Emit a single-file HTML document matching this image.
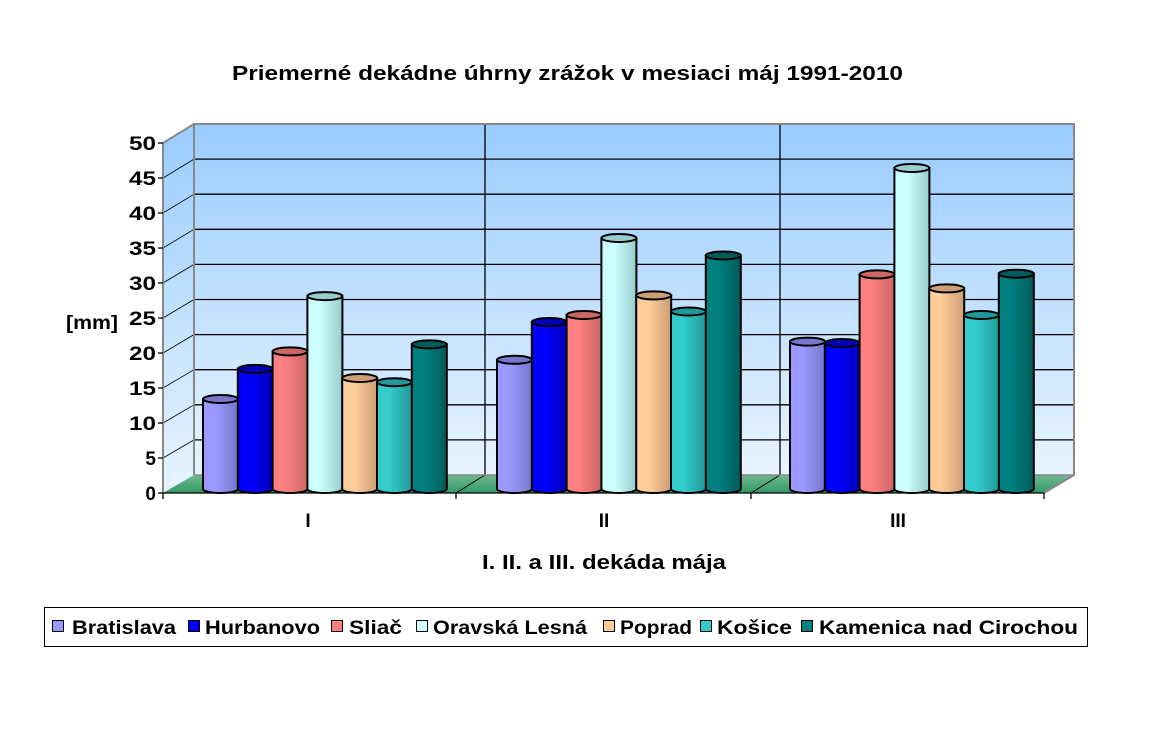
<!DOCTYPE html>
<html><head><meta charset="utf-8"><style>
body{margin:0;background:#fff;width:1161px;height:756px;overflow:hidden;font-family:"Liberation Sans",Arial,sans-serif}
</style></head><body>
<svg width="1161" height="756" xmlns="http://www.w3.org/2000/svg" style="position:absolute;left:0;top:0">
<defs>
<linearGradient id="wall" x1="0" y1="0" x2="0" y2="1"><stop offset="0" stop-color="#99ccff"/><stop offset="1" stop-color="#e8f4ff"/></linearGradient>
<linearGradient id="fl" x1="0" y1="0" x2="0" y2="1"><stop offset="0" stop-color="#6fb890"/><stop offset="1" stop-color="#339966"/></linearGradient>
</defs>
<g font-family="Liberation Sans, Arial, sans-serif" font-weight="bold" fill="#000">
<text x="232" y="80" font-size="20" textLength="671" lengthAdjust="spacingAndGlyphs">Priemerné dekádne úhrny zrážok v mesiaci máj 1991-2010</text>
</g>
<polygon points="163,143 194,124 194,475 163,493" fill="url(#wall)"/>
<rect x="194" y="124" width="880" height="351" fill="url(#wall)"/>
<polygon points="194,475 1074,475 1044,493 163,493" fill="url(#fl)"/>
<g stroke="#000" stroke-width="1.3" id="grid"></g>
<line x1="485" y1="124" x2="485" y2="475" stroke="#000" stroke-width="1.3"/>
<line x1="780" y1="124" x2="780" y2="475" stroke="#000" stroke-width="1.3"/>
<line x1="485" y1="475" x2="456" y2="493" stroke="#000" stroke-width="1"/>
<line x1="780" y1="475" x2="751" y2="493" stroke="#000" stroke-width="1"/>
<polyline points="163,143 194,124 1074,124 1074,475 1044,493" fill="none" stroke="#888" stroke-width="2"/>
<line x1="194" y1="124" x2="194" y2="475" stroke="#888" stroke-width="2"/>
<line x1="194" y1="475" x2="1074" y2="475" stroke="#888" stroke-width="1.5"/>
<line x1="163" y1="143" x2="163" y2="493" stroke="#888" stroke-width="2"/>
<line x1="163" y1="493" x2="1044" y2="493" stroke="#000" stroke-width="1.3"/>
<g id="bars"></g>
<g id="ticks" stroke="#000" stroke-width="1.3"></g>
<g font-family="Liberation Sans, Arial, sans-serif" font-weight="bold" font-size="19" fill="#000" id="ylab"></g>
<g font-family="Liberation Sans, Arial, sans-serif" font-weight="bold" font-size="19" fill="#000">
<text x="66" y="329" textLength="52" lengthAdjust="spacingAndGlyphs">[mm]</text>
<text x="308" y="527" text-anchor="middle">I</text>
<text x="604" y="527" text-anchor="middle">II</text>
<text x="898" y="527" text-anchor="middle">III</text>
<text x="482" y="569" font-size="20" textLength="244" lengthAdjust="spacingAndGlyphs">I. II. a III. dekáda mája</text>
</g>
<rect x="44.5" y="607.5" width="1043" height="39" fill="#fff" stroke="#000" stroke-width="1"/>
<g font-family="Liberation Sans, Arial, sans-serif" font-weight="bold" font-size="19" fill="#000" id="leg"></g>
</svg>
<script>
var ns="http://www.w3.org/2000/svg";
function el(p,t,a,txt){var e=document.createElementNS(ns,t);for(var k in a)e.setAttribute(k,a[k]);if(txt)e.textContent=txt;p.appendChild(e);return e;}
var g=document.getElementById('grid');
for(var k=1;k<=10;k++){var yb=475-k*35.1,yf=493-k*35;
el(g,'line',{x1:194,y1:yb,x2:1074,y2:yb});
el(g,'line',{x1:163,y1:yf,x2:194,y2:yb,'stroke-width':0.8});}
var yl=document.getElementById('ylab'),tk=document.getElementById('ticks');
for(var k=0;k<=10;k++){var y=493-k*35;var a={x:156,y:y+7,'text-anchor':'end'};if(k>=2){a.textLength=27;a.lengthAdjust='spacingAndGlyphs';}el(yl,'text',a,String(k*5));el(tk,'line',{x1:158,y1:y,x2:163,y2:y});}
[163,456,751,1044].forEach(function(x){el(tk,'line',{x1:x,y1:493,x2:x,y2:499});});
var cols=[["#9999ff","#7777cc"],["#0000ff","#0000bb"],["#ff8080","#cc6666"],["#ccffff","#99cccc"],["#ffcc99","#cc9f77"],["#33cccc","#229999"],["#008080","#005c5c"]];
var defs=document.querySelector('defs');
cols.forEach(function(c,i){var lg=el(defs,'linearGradient',{id:'c'+i,x1:0,y1:0,x2:1,y2:0});
el(lg,'stop',{offset:0,'stop-color':c[0]});el(lg,'stop',{offset:0.35,'stop-color':c[0]});el(lg,'stop',{offset:1,'stop-color':c[1]});});
var vals=[[13,17.3,19.8,27.7,16,15.4,20.8],[18.6,24,25,36,27.8,25.5,33.5],[21.2,21,30.8,46,28.8,25,30.9]];
var starts=[203,497,790];var B=document.getElementById('bars');
vals.forEach(function(vs,gi){vs.forEach(function(v,i){var x=starts[gi]+i*34.8,w=35,yt=490-v*7,yb=489,ry=4;
el(B,'path',{d:'M'+x+','+yt+' L'+x+','+yb+' A'+w/2+','+ry+' 0 0 0 '+(x+w)+','+yb+' L'+(x+w)+','+yt+' Z',fill:'url(#c'+i+')',stroke:'#000','stroke-width':2});
el(B,'ellipse',{cx:x+w/2,cy:yt,rx:w/2,ry:ry,fill:cols[i][1],stroke:'#000','stroke-width':2});});});
var L=document.getElementById('leg');
var items=[["Bratislava",52,72,104],["Hurbanovo",188,205,115],["Sliač",331,349,53],["Oravská Lesná",416,433,154],["Poprad",603,620,72],["Košice",700,717,75],["Kamenica nad Cirochou",801,819,259]];
items.forEach(function(it,i){el(L,'rect',{x:it[1]+0.5,y:620.5,width:11,height:11,fill:cols[i][0],stroke:'#000','stroke-width':1});
el(L,'text',{x:it[2],y:634,textLength:it[3],lengthAdjust:'spacingAndGlyphs'},it[0]);});
</script>
</body></html>
